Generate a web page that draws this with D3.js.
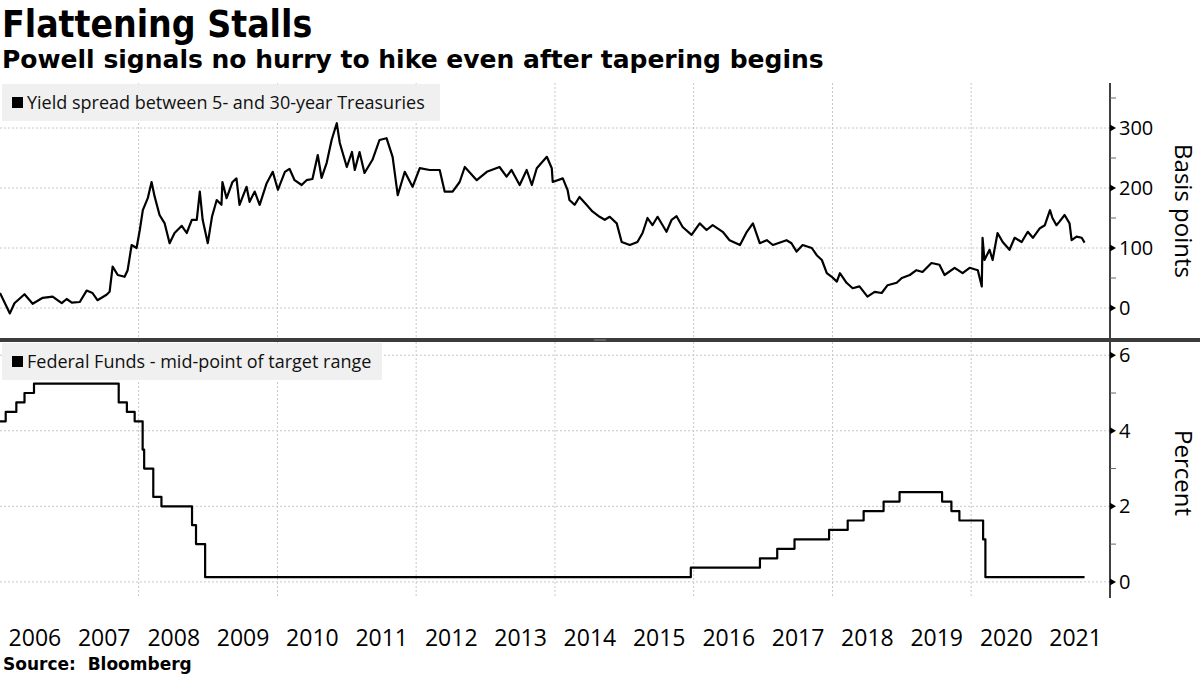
<!DOCTYPE html>
<html><head><meta charset="utf-8">
<script src="https://cdn.jsdelivr.net/npm/d3@7"></script>
<style>
body{margin:0;background:#fff;}
svg{display:block;}
</style></head><body>
<svg id="chart" width="1200" height="675"></svg>
<script>
const titleText = "Flattening Stalls";
const subtitleText = "Powell signals no hurry to hike even after tapering begins";
const sourceText = "Source:  Bloomberg";
const spreadLabel = "Yield spread between 5- and 30-year Treasuries";
const fedLabel = "Federal Funds - mid-point of target range";
const spreadAxisTitle = "Basis points";
const fedAxisTitle = "Percent";
const yearLabels = [2006,2007,2008,2009,2010,2011,2012,2013,2014,2015,2016,2017,2018,2019,2020,2021];
const gridYears = [2008,2010,2012,2014,2016,2018,2020];
const spreadTicks = [0,100,200,300];
const spreadMinorTicks = [50,150,250,350];
const fedTicks = [0,2,4,6];
const fedMinorTicks = [1,3,5];

const spreadDates = ["2006-01-01","2006-02-22","2006-03-18","2006-05-10","2006-06-22","2006-08-14","2006-10-05","2006-11-22","2006-12-18","2007-01-14","2007-02-25","2007-04-02","2007-05-03","2007-05-29","2007-07-16","2007-08-01","2007-08-17","2007-09-13","2007-10-19","2007-11-04","2007-11-25","2007-12-21","2008-01-07","2008-01-23","2008-02-18","2008-03-09","2008-03-25","2008-04-20","2008-05-17","2008-06-12","2008-07-08","2008-08-15","2008-09-10","2008-10-07","2008-11-02","2008-11-18","2008-12-03","2008-12-30","2009-01-21","2009-02-15","2009-03-12","2009-03-17","2009-04-08","2009-05-09","2009-05-30","2009-06-15","2009-07-22","2009-08-07","2009-09-03","2009-09-29","2009-11-05","2009-12-07","2010-01-03","2010-02-09","2010-03-05","2010-04-01","2010-05-08","2010-06-03","2010-07-04","2010-08-01","2010-08-21","2010-09-17","2010-10-13","2010-11-09","2010-11-25","2011-01-01","2011-01-28","2011-02-12","2011-03-09","2011-04-04","2011-05-16","2011-06-22","2011-07-29","2011-08-30","2011-09-26","2011-11-02","2011-12-13","2012-01-20","2012-03-12","2012-05-04","2012-05-30","2012-07-11","2012-08-17","2012-09-13","2012-11-15","2013-01-07","2013-03-15","2013-04-21","2013-05-17","2013-06-29","2013-08-05","2013-09-01","2013-09-27","2013-11-19","2013-12-15","2013-12-20","2014-02-11","2014-03-08","2014-03-18","2014-04-14","2014-05-10","2014-06-16","2014-07-17","2014-08-24","2014-09-20","2014-10-16","2014-11-22","2014-12-18","2015-01-30","2015-03-11","2015-04-07","2015-05-03","2015-05-29","2015-06-25","2015-08-11","2015-09-07","2015-10-03","2015-11-04","2015-12-21","2016-02-02","2016-03-09","2016-04-10","2016-06-02","2016-07-08","2016-09-01","2016-10-07","2016-11-08","2016-12-14","2017-01-20","2017-02-21","2017-05-04","2017-05-30","2017-06-26","2017-07-28","2017-09-14","2017-10-10","2017-11-06","2017-12-02","2017-12-28","2018-01-24","2018-02-09","2018-03-16","2018-04-17","2018-05-23","2018-07-04","2018-08-11","2018-09-17","2018-10-18","2018-12-05","2019-01-01","2019-02-12","2019-03-19","2019-04-20","2019-06-06","2019-07-18","2019-08-14","2019-10-06","2019-11-17","2019-12-24","2020-02-05","2020-02-26","2020-03-01","2020-03-11","2020-04-07","2020-04-23","2020-05-19","2020-06-15","2020-07-21","2020-08-17","2020-09-23","2020-10-25","2020-11-21","2020-12-28","2021-01-23","2021-02-19","2021-03-04","2021-03-25","2021-04-10","2021-05-07","2021-06-02","2021-06-13","2021-07-09","2021-08-05","2021-08-20"];
const spreadValues = [25,-9,8,23,7,17,19,8,15,9,10,29,25,13,22,27,69,55,52,63,105,100,130,163,183,210,186,155,141,108,125,137,125,147,147,194,147,108,152,180,172,210,183,210,216,172,202,177,194,172,208,227,197,227,232,213,205,213,215,255,217,242,280,308,275,235,260,230,260,225,247,280,283,252,188,227,202,233,230,230,194,194,210,235,213,227,235,219,230,205,230,205,233,252,233,210,216,197,180,172,185,172,161,152,147,152,141,110,105,110,125,150,138,152,127,147,153,135,122,141,130,138,127,113,105,127,141,108,113,105,113,108,94,105,100,88,80,58,52,44,58,42,33,36,19,27,25,38,42,50,55,63,60,75,72,55,67,58,67,63,36,117,80,97,80,125,110,97,117,110,127,117,133,138,163,150,138,144,155,141,113,119,117,109];

const fedDates = ["2006-01-01","2006-01-31","2006-03-28","2006-05-10","2006-06-29","2007-09-18","2007-10-31","2007-12-11","2008-01-22","2008-01-30","2008-03-18","2008-04-30","2008-10-08","2008-10-29","2008-12-16","2015-12-17","2016-12-15","2017-03-16","2017-06-15","2017-12-14","2018-03-22","2018-06-14","2018-09-27","2018-12-20","2019-08-01","2019-09-19","2019-10-31","2020-03-04","2020-03-16","2021-08-20"];
const fedValues = [4.25,4.5,4.75,5.0,5.25,4.75,4.5,4.25,3.5,3.0,2.25,2.0,1.5,1.0,0.125,0.375,0.625,0.875,1.125,1.375,1.625,1.875,2.125,2.375,2.125,1.875,1.625,1.125,0.125,0.125];

const parse = d3.timeParse("%Y-%m-%d");
const spread = spreadDates.map((d,i)=>({date:parse(d), v:spreadValues[i]}));
const fed = fedDates.map((d,i)=>({date:parse(d), v:fedValues[i]}));

const svg = d3.select("#chart");
const W = 1200, plotL = 0, plotR = 1110;
const axisFont = "'Open Sans', 'Noto Sans', sans-serif";
const condFont = "'DejaVu Sans Condensed', 'DejaVu Sans', sans-serif";
const boldFont = "'DejaVu Sans', sans-serif";

const x = d3.scaleTime().domain([new Date(2006,0,1), new Date(2022,0,1)]).range([plotL, plotR]);
const yTop = d3.scaleLinear().domain([-50, 375]).range([338, 83]);
const yBot = d3.scaleLinear().domain([-0.4, 6.35]).range([597, 342]);

// Titles
svg.append("text").attr("x",2).attr("y",37).text(titleText)
  .style("font-family",condFont).style("font-weight","bold").style("font-size","37px").attr("fill","#000");
svg.append("text").attr("x",2).attr("y",68).text(subtitleText)
  .style("font-family",boldFont).style("font-weight","bold").style("font-size","25px").attr("fill","#000");

function panel(y, yTicksArr, minor, top, bottom, label, labelW, axisTitle, data, curve, fmt) {
  const g = svg.append("g");
  g.selectAll("line.hg").data(yTicksArr).enter().append("line")
    .attr("x1",plotL).attr("x2",plotR).attr("y1",d=>y(d)).attr("y2",d=>y(d))
    .attr("stroke","#c8c8c8").attr("stroke-width",1).attr("stroke-dasharray","2,2");
  g.selectAll("line.vg").data(gridYears).enter().append("line")
    .attr("x1",d=>x(new Date(d,0,1))).attr("x2",d=>x(new Date(d,0,1)))
    .attr("y1",top).attr("y2",bottom)
    .attr("stroke","#c8c8c8").attr("stroke-width",1).attr("stroke-dasharray","2,2");
  g.append("rect").attr("x",2).attr("y",top+1).attr("width",labelW).attr("height",37).attr("fill","#f0f0f0");
  g.append("rect").attr("x",12).attr("y",top+14).attr("width",11).attr("height",11).attr("fill","#000");
  g.append("text").attr("x",27).attr("y",top+26).text(label)
    .style("font-family",axisFont).style("font-size","18px").attr("fill","#111");
  const line = d3.line().x(d=>x(d.date)).y(d=>y(d.v)).curve(curve);
  g.append("path").datum(data).attr("d",line).attr("fill","none")
    .attr("stroke","#000").attr("stroke-width",2.2).attr("stroke-linejoin","round");
  const ax = d3.axisRight(y).tickValues(yTicksArr).tickSize(0).tickPadding(9).tickFormat(fmt);
  const axg = g.append("g").attr("transform",`translate(${plotR},0)`).call(ax);
  axg.select(".domain").remove();
  axg.selectAll("text").style("font-family",axisFont).style("font-size","20px").attr("fill","#000");
  g.append("line").attr("x1",plotR).attr("x2",plotR).attr("y1",top).attr("y2",bottom)
    .attr("stroke","#000").attr("stroke-width",1.5);
  g.selectAll("path.tri").data(yTicksArr).enter().append("path")
    .attr("d",d=>`M${plotR},${y(d)-3.5}L${plotR+6},${y(d)}L${plotR},${y(d)+3.5}Z`).attr("fill","#000");
  g.selectAll("line.mt").data(minor).enter().append("line")
    .attr("x1",plotR).attr("x2",plotR+6).attr("y1",d=>y(d)).attr("y2",d=>y(d))
    .attr("stroke","#666").attr("stroke-width",1);
}

panel(yTop, spreadTicks, spreadMinorTicks, 83, 338, spreadLabel, 438, spreadAxisTitle, spread, d3.curveLinear, d3.format("d"));
panel(yBot, fedTicks, fedMinorTicks, 342, 598, fedLabel, 380, fedAxisTitle, fed, d3.curveStepAfter, d3.format("d"));

// axis titles
[[spreadAxisTitle, 211],[fedAxisTitle, 473]].forEach(([t, cy])=>{
  svg.append("text").attr("transform",`translate(1175,${cy}) rotate(90)`).attr("text-anchor","middle")
    .text(t).style("font-family",axisFont).style("font-size","24px").attr("fill","#000");
});

// separator
svg.append("rect").attr("x",0).attr("y",338).attr("width",W).attr("height",4).attr("fill","#3c3c3c");
svg.append("line").attr("x1",594).attr("x2",606).attr("y1",340).attr("y2",340).attr("stroke","#888").attr("stroke-width",1);

// bottom year axis
const xa = d3.axisBottom(x).tickValues(yearLabels.map(yy=>new Date(yy,6,1)))
  .tickFormat(d3.timeFormat("%Y")).tickSize(0).tickPadding(0);
const xg = svg.append("g").attr("transform","translate(0,630)").call(xa);
xg.select(".domain").remove();
xg.selectAll("text").style("font-family",axisFont).style("font-size","23px").attr("fill","#000");

svg.append("text").attr("x",3).attr("y",670).text(sourceText)
  .style("font-family",boldFont).style("font-weight","bold").style("font-size","17px").attr("fill","#000")
  .style("white-space","pre");
</script>
</body></html>
